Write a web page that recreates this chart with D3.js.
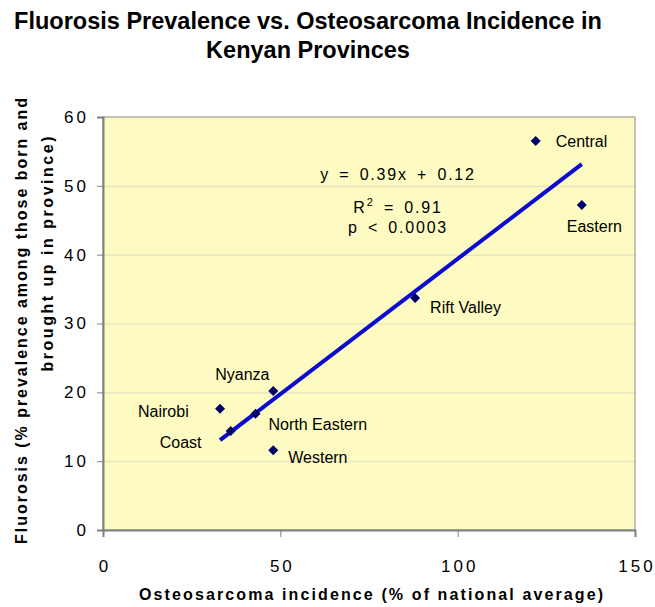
<!DOCTYPE html>
<html><head><meta charset="utf-8">
<script src="https://cdn.jsdelivr.net/npm/d3@7"></script>
<style>
body{margin:0;background:#fff}
svg{display:block}
text{font-family:"Liberation Sans",Arial,sans-serif;fill:#000}
</style>
</head><body>
<svg id="chart" width="655" height="607"></svg>
<script>
// ---- data ----
const provinces = ["Central","Eastern","Rift Valley","Nyanza","Nairobi","North Eastern","Coast","Western"];
const osteosarcoma = [122, 135, 88, 48, 33, 43, 36, 48];
const fluorosis = [56.5, 47.2, 33.7, 20.2, 17.6, 16.9, 14.4, 11.6];
const xTicks = [0, 50, 100, 150];
const yTicks = [0, 10, 20, 30, 40, 50, 60];
const titleLines = ["Fluorosis Prevalence vs. Osteosarcoma Incidence in", "Kenyan Provinces"];
const xTitle = "Osteosarcoma incidence (% of national average)";
const yTitleLines = ["Fluorosis (% prevalence among those born and", "brought up in province)"];
const equationText = "y = 0.39x + 0.12";
const r2Text = "0.91";
const pText = "p < 0.0003";

// ---- layout (pixel offsets for labels) ----
const labelOffset = {
  "Central": [20, 0], "Eastern": [-15, 21], "Rift Valley": [15, 9], "Nyanza": [-58, -17],
  "Nairobi": [-82, 2], "North Eastern": [13, 11], "Coast": [-71, 11], "Western": [15, 7]
};

const svg = d3.select("#chart");
const L = 103, R = 635, T = 117, B = 530;
const x = d3.scaleLinear().domain([0, 150]).range([L, R]);
const y = d3.scaleLinear().domain([0, 60]).range([B, T]);

// plot background
svg.append("rect").attr("x", L).attr("y", T).attr("width", R - L).attr("height", B - T)
  .attr("fill", "#fdfbc2");

// gridlines
const grid = svg.append("g").attr("transform", `translate(${L},0)`)
  .call(d3.axisLeft(y).tickValues(yTicks.filter(v => v > 0 && v < 60)).tickSize(-(R - L)).tickFormat(""));
grid.select(".domain").remove();
grid.selectAll("line").attr("stroke", "#deddc6").attr("stroke-width", 1);

// border
svg.append("rect").attr("x", L).attr("y", T).attr("width", R - L).attr("height", B - T)
  .attr("fill", "none").attr("stroke", "#8a8a8a").attr("stroke-width", 1);

// y axis
const yAxis = svg.append("g").attr("transform", `translate(${L},0)`)
  .call(d3.axisLeft(y).tickValues(yTicks).tickSize(6).tickPadding(8));
yAxis.select(".domain").attr("stroke", "#808080").attr("stroke-width", 2);
yAxis.selectAll(".tick line").attr("stroke", "#808080").attr("stroke-width", 1);
yAxis.selectAll(".tick text").attr("font-size", 17).attr("letter-spacing", 3)
  .attr("font-family", "Liberation Sans, Arial, sans-serif").attr("fill", "#000");

// x axis
const xAxis = svg.append("g").attr("transform", `translate(0,${B})`)
  .call(d3.axisBottom(x).tickValues(xTicks).tickSize(7));
xAxis.select(".domain").attr("stroke", "#808080").attr("stroke-width", 2);
xAxis.selectAll(".tick line").attr("stroke", "#808080").attr("stroke-width", 1);
xAxis.selectAll(".tick text").attr("font-size", 17).attr("letter-spacing", 3)
  .attr("font-family", "Liberation Sans, Arial, sans-serif").attr("fill", "#000")
  .attr("y", 42).attr("dy", 0).attr("dx", 1.5);

// regression line (least squares from data)
const mx = d3.mean(osteosarcoma), my = d3.mean(fluorosis);
const sxy = d3.sum(osteosarcoma.map((v, i) => (v - mx) * (fluorosis[i] - my)));
const sxx = d3.sum(osteosarcoma.map(v => (v - mx) * (v - mx)));
const slope = sxy / sxx, intercept = my - slope * mx;
const [x0, x1] = d3.extent(osteosarcoma);
svg.append("line")
  .attr("x1", x(x0)).attr("y1", y(slope * x0 + intercept))
  .attr("x2", x(x1)).attr("y2", y(slope * x1 + intercept))
  .attr("stroke", "#0b0bd0").attr("stroke-width", 4);

// points
const pts = provinces.map((p, i) => ({ name: p, xv: osteosarcoma[i], yv: fluorosis[i] }));
svg.append("g").selectAll("path").data(pts).join("path")
  .attr("d", d3.symbol(d3.symbolSquare, 50))
  .attr("transform", d => `translate(${x(d.xv)},${y(d.yv)}) rotate(45)`)
  .attr("fill", "#000066");

// point labels
svg.append("g").selectAll("text").data(pts).join("text")
  .attr("x", d => x(d.xv) + labelOffset[d.name][0])
  .attr("y", d => y(d.yv) + labelOffset[d.name][1] + 5.7)
  .attr("font-size", 16)
  .text(d => d.name);

// equation block
const eqX = 398;
svg.append("text").attr("x", eqX).attr("y", 180).attr("text-anchor", "middle")
  .attr("font-size", 16).attr("letter-spacing", 1.8).attr("word-spacing", 3).text(equationText);
const r2 = svg.append("text").attr("x", eqX).attr("y", 213).attr("text-anchor", "middle")
  .attr("font-size", 16).attr("letter-spacing", 1.8).attr("word-spacing", 3);
r2.append("tspan").text("R");
r2.append("tspan").attr("font-size", 11).attr("dy", -7).text("2");
r2.append("tspan").attr("dy", 7).text(" = " + r2Text);
svg.append("text").attr("x", eqX).attr("y", 233).attr("text-anchor", "middle")
  .attr("font-size", 16).attr("letter-spacing", 1.8).attr("word-spacing", 3).text(pText);

// title
svg.selectAll(".title").data(titleLines).join("text").attr("class", "title")
  .attr("x", 308).attr("y", (d, i) => 29 + i * 29).attr("text-anchor", "middle")
  .attr("font-size", 23.5).attr("font-weight", "bold").text(d => d);

// x axis title
svg.append("text").attr("x", 371).attr("y", 600).attr("text-anchor", "middle")
  .attr("font-size", 16).attr("font-weight", "bold")
  .attr("textLength", 464).attr("lengthAdjust", "spacing").text(xTitle);

// y axis title
const yCenters = [[27, 321, 446], [52.5, 254, 235]];
yTitleLines.forEach((t, i) => {
  const [bx, cy, len] = yCenters[i];
  svg.append("text").attr("transform", `translate(${bx},${cy}) rotate(-90)`)
    .attr("text-anchor", "middle").attr("font-size", 16).attr("font-weight", "bold")
    .attr("textLength", len).attr("lengthAdjust", "spacing").text(t);
});
</script>
</body></html>
